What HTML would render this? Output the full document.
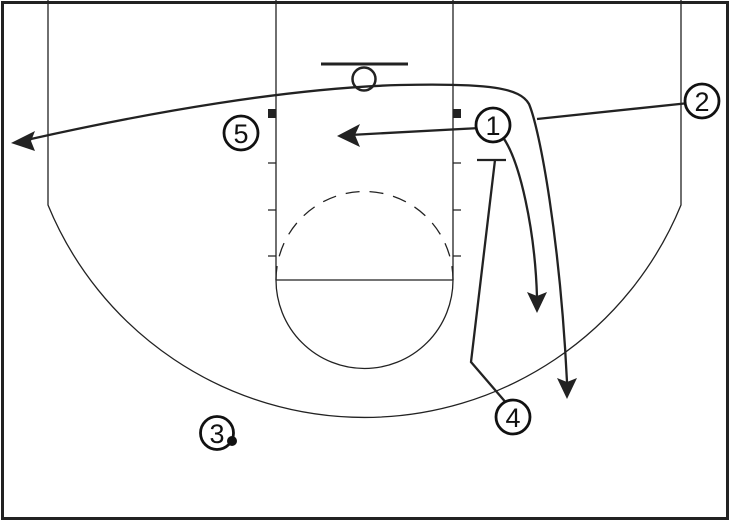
<!DOCTYPE html>
<html><head><style>html,body{margin:0;padding:0;background:#fff}svg{display:block}</style></head><body>
<svg width="730" height="521" viewBox="0 0 730 521" xmlns="http://www.w3.org/2000/svg">
<rect x="2.5" y="2.5" width="725" height="516" fill="#fff" stroke="#222" stroke-width="3"/>
<g fill="none" stroke="#222" stroke-width="1.3">
<path d="M48,0 V205 A342,342 0 0 0 681,205 V0"/>
<path d="M276,0 V280 M453,0 V280 M276,280 H453"/>
<path d="M276,280 A88.5,88.5 0 0 0 453,280"/>
<path d="M276,280 A88.5,88.5 0 0 1 453,280" stroke-dasharray="14,10"/>
<path d="M268,163 H276 M268,210 H276 M268,256 H276 M453,163 H461 M453,210 H461 M453,256 H461"/>
</g>
<rect x="268" y="109" width="8" height="9" fill="#222"/>
<rect x="453" y="109" width="8" height="9" fill="#222"/>
<line x1="321" y1="64" x2="408" y2="64" stroke="#222" stroke-width="3"/>
<circle cx="364" cy="79" r="11.5" fill="none" stroke="#222" stroke-width="2.5"/>
<g fill="none" stroke="#222" stroke-width="2.3">
<path d="M22,141 C150,112 290,88 400,85 C490,83 520,88 529,104 C540,130 560,240 567,382"/>
<path d="M689,103 L537,119"/>
<path d="M480,128 L350,135"/>
<path d="M502,136 C520,160 535,230 537,297"/>
<path d="M508,405 L471,362 L495,160 M477,160 H506"/>
</g>
<g fill="#222">
<polygon points="11,143 35,131 31,141 35,151"/>
<polygon points="337,136 360,124 355,135 360,147"/>
<polygon points="537,313 527,292 537,296 547,292"/>
<polygon points="567,399 557,378 567,382 577,378"/>
</g>
<g fill="#fff" stroke="#111" stroke-width="2.8">
<circle cx="493" cy="125" r="17"/>
<circle cx="702" cy="101" r="17"/>
<circle cx="217" cy="433" r="16.5"/>
<circle cx="513" cy="417" r="17"/>
<circle cx="241" cy="133" r="17"/>
</g>
<circle cx="232" cy="441" r="5" fill="#111"/>
<g font-family="Liberation Sans, sans-serif" font-size="27" fill="#111" text-anchor="middle">
<text x="493" y="135">1</text>
<text x="702" y="111">2</text>
<text x="217" y="443">3</text>
<text x="513" y="427">4</text>
<text x="241" y="143">5</text>
</g>
</svg>
</body></html>
